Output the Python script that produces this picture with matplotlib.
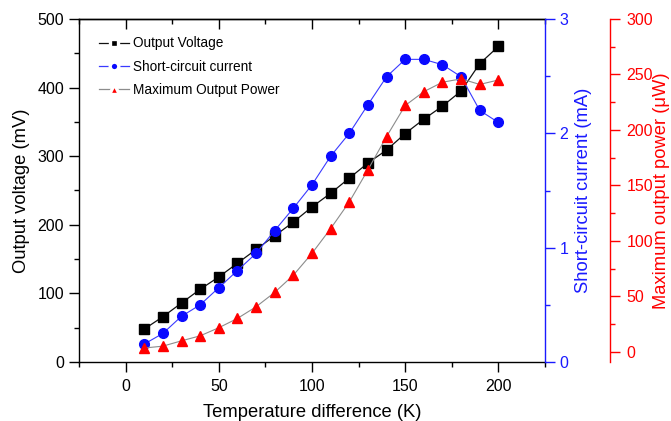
import matplotlib
matplotlib.use("Agg")
import matplotlib.pyplot as plt
from matplotlib.ticker import MultipleLocator, NullFormatter
from matplotlib.lines import Line2D
from matplotlib.legend_handler import HandlerTuple

plt.rcParams['font.family'] = ['Liberation Sans', 'DejaVu Sans']

temp_diff = [10, 20, 30, 40, 50, 60, 70, 80, 90, 100,
             110, 120, 130, 140, 150, 160, 170, 180, 190, 200]
output_voltage = [48, 66, 86, 106, 124, 144, 164, 184, 204, 226,
                  246, 268, 290, 309, 333, 354, 373, 395, 435, 460]
short_circuit_current = [0.157, 0.25, 0.40, 0.50, 0.65, 0.80, 0.95, 1.15, 1.345, 1.55,
                         1.80, 2.0, 2.25, 2.495, 2.647, 2.647, 2.60, 2.495, 2.20, 2.095]
max_power = [3.3, 5, 9.8, 14.3, 21.6, 30, 40.5, 53.5, 69, 88.7,
             111, 135, 164, 194, 222, 234.5, 243, 246, 241, 245]
series_labels = ['Output Voltage', 'Short-circuit current', 'Maximum Output Power']

W, H = 671, 421
x0, x1, y0, y1 = 79, 545, 19, 362
fig = plt.figure(figsize=(W/100, H/100), dpi=100)
ax = fig.add_axes([x0/W, 1-y1/H, (x1-x0)/W, (y1-y0)/H])
ax2 = ax.twinx()
ax3 = ax.twinx()

blue = '#1a1aff'
red = '#ff0000'
line_cols = ['#111111', '#3a3aff', '#8c8c8c']
mark_cols = ['black', '#0a0aff', red]
markers = ['s', 'o', '^']

ax.plot(temp_diff, output_voltage, color=line_cols[0], lw=0.9, marker='s',
        ms=6.5, mfc=mark_cols[0], mec=mark_cols[0])
ax2.plot(temp_diff, short_circuit_current, color=line_cols[1], lw=0.8, marker='o',
         ms=7, mfc=mark_cols[1], mec=mark_cols[1])
ax3.plot(temp_diff, max_power, color=line_cols[2], lw=0.8, marker='^',
         ms=7.5, mfc=mark_cols[2], mec=mark_cols[2])

ax.set_xlim(-25, 225)
ax.set_ylim(0, 500)
ax2.set_ylim(0, 3)
ax3.set_ylim(-9.3, 300)

ax3.spines['right'].set_position(('axes', 1 + 65/466))
for a in (ax2, ax3):
    for s in ('top', 'left', 'bottom'):
        a.spines[s].set_visible(False)
ax.spines['right'].set_visible(False)
ax2.spines['right'].set_color(blue)
ax3.spines['right'].set_color(red)
for a in (ax, ax2, ax3):
    for s in a.spines.values():
        s.set_linewidth(1.0)

ax.xaxis.set_major_locator(MultipleLocator(50))
ax.xaxis.set_minor_locator(MultipleLocator(25))
ax.yaxis.set_major_locator(MultipleLocator(100))
ax.yaxis.set_minor_locator(MultipleLocator(50))
ax2.yaxis.set_major_locator(MultipleLocator(1))
ax2.yaxis.set_minor_locator(MultipleLocator(0.5))
ax3.yaxis.set_major_locator(MultipleLocator(50))
ax3.yaxis.set_minor_locator(MultipleLocator(25))

fs = 11.5
ax.tick_params(axis='x', which='major', direction='out', length=7, width=1,
               labelsize=fs, pad=5.4)
ax.tick_params(axis='x', which='minor', direction='out', length=3.5, width=1)
ax.tick_params(axis='y', which='major', direction='out', length=7, width=1,
               labelsize=fs, pad=3.8)
ax.tick_params(axis='y', which='minor', direction='out', length=3.5, width=1)

# top axis with inward ticks, no labels
top = ax.secondary_xaxis('top')
top.xaxis.set_major_locator(MultipleLocator(50))
top.xaxis.set_minor_locator(MultipleLocator(25))
top.xaxis.set_major_formatter(NullFormatter())
top.tick_params(which='major', direction='in', length=7, width=1)
top.tick_params(which='minor', direction='in', length=3.5, width=1)
top.spines['top'].set_linewidth(1.0)

ax2.tick_params(axis='y', which='major', direction='out', length=7, width=1,
                colors=blue, labelsize=fs, pad=3.6)
ax2.tick_params(axis='y', which='minor', direction='out', length=3.5, width=1, colors=blue)
ax3.tick_params(axis='y', which='major', direction='out', length=7, width=1,
                colors=red, labelsize=fs, pad=4.8)
ax3.tick_params(axis='y', which='minor', direction='out', length=3.5, width=1, colors=red)

lfs = 13.2
ax.set_xlabel('Temperature difference (K)', fontsize=lfs)
ax.set_ylabel('Output voltage (mV)', fontsize=lfs)
ax2.set_ylabel('Short-circuit current (mA)', fontsize=lfs, color=blue)
ax3.set_ylabel('Maximum output power (μW)', fontsize=lfs, color=red)
ax.xaxis.set_label_coords(0.5, (y1 - 404) / (y1 - y0))
ax.yaxis.set_label_coords((30 - x0) / (x1 - x0), 0.5)
ax2.yaxis.set_label_coords((575 - x0) / (x1 - x0), 0.5)
ax3.yaxis.set_label_coords((653 - x0) / (x1 - x0), 0.5)

# legend entries: line with a small gap around the marker (Origin style)
handles = []
for lc, mc, mk in zip(line_cols, mark_cols, markers):
    ln = Line2D([], [], color=lc, lw=0.9)
    mkh = Line2D([], [], ls='none', marker=mk, ms=6.2 if mk != '^' else 7.6,
                 mfc=mc, mec='white', mew=2.4)
    handles.append((ln, mkh))

leg = ax.legend(handles=handles, labels=series_labels, loc='upper left', frameon=False,
                fontsize=9.8, handlelength=2.2, handletextpad=0.3,
                labelspacing=0.68, borderpad=0.4, borderaxespad=0,
                handler_map={tuple: HandlerTuple(ndivide=1, pad=0)},
                bbox_to_anchor=((94 - x0) / (x1 - x0), (y1 - 31) / (y1 - y0)))

fig.savefig('out.png', dpi=100)
